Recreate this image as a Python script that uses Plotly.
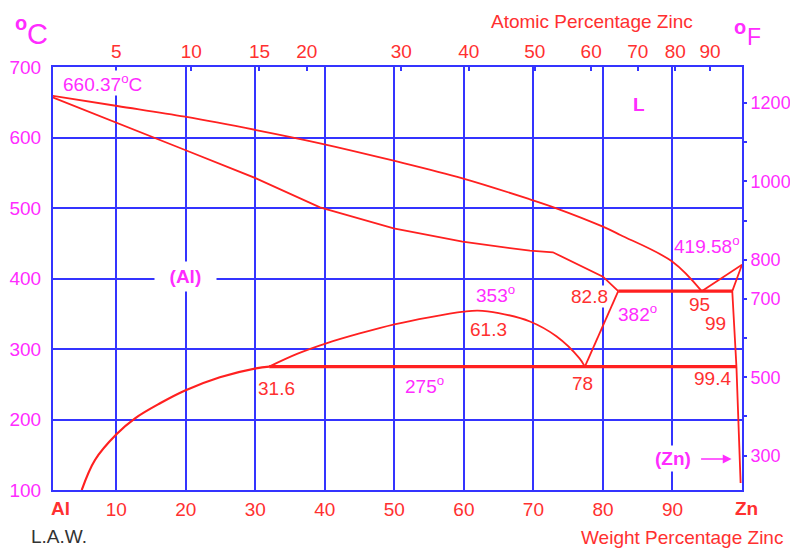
import plotly.graph_objects as go

RED = "#ff2020"
TXT_RED = "#ff3030"
MAG = "#ff2cff"
BLUE = "#3434ff"
FONT = "Liberation Sans, Arial, sans-serif"

# ---------------- data (weight % Zn, temperature in deg C) ----------------
liq_al_wt = [0, 10.15, 19.9, 30.1, 39.3, 49.9, 59.8, 69.5, 73.3, 80.0, 82.5, 90.0, 94.2]
liq_al_T = [660.37, 644.7, 629.5, 610.6, 591.8, 567.1, 542.1, 512.3, 499.6, 473.5, 461.7, 423.8, 382]

sol_al_wt = [0, 10.15, 19.9, 30.1, 39.3, 49.9, 59.8, 69.5, 72.8, 80.0, 82.2]
sol_al_T = [660.37, 620.1, 582.3, 542.1, 501.0, 471.2, 452.2, 439.4, 437.2, 402.6, 382]

gap_wt = [32.0, 36.0, 40.2, 45.0, 50.0, 55.0, 60.0, 62.0, 65.0, 69.5, 73.3, 76.6, 77.4]
gap_T = [275, 293, 308, 322, 335, 345, 353, 354.5, 351, 339, 318, 287, 275]

alpha_wt = [77.4, 82.2]
alpha_T = [275, 382]

solv_al_wt = [5.03, 6.94, 10.06, 12.7, 16.3, 19.9, 24.9, 30.1, 32.0]
solv_al_T = [100, 142.6, 179.4, 201.7, 223.0, 241.1, 259.9, 272.6, 275]

liq_zn_wt = [100, 94.2]
liq_zn_T = [419.58, 382]

zn_wt = [100, 98.6, 99.2, 99.8]
zn_T = [419.58, 382, 275, 110]

eutectic_wt = [82.2, 98.6]
eutectic_T = [382, 382]

eutectoid_wt = [32.0, 99.2]
eutectoid_T = [275, 275]

# axis ticks
wt_ticks = [10, 20, 30, 40, 50, 60, 70, 80, 90]
at_labels = ["5", "10", "15", "20", "30", "40", "50", "60", "70", "80", "90"]
at_pos_wt = [10.0, 20.8, 30.6, 37.4, 51.0, 60.7, 70.2, 78.3, 85.0, 90.4, 95.4]
c_ticks = [100, 200, 300, 400, 500, 600, 700]
f_labeled = [300, 500, 700, 800, 1000, 1200]
f_minor = [400, 600, 900, 1100]
f_pos_c = [(f - 32) * 5 / 9 for f in f_labeled]
f_minor_c = [(f - 32) * 5 / 9 for f in f_minor]

fig = go.Figure()


def add_line(x, y, w=1.8, smooth=False):
    fig.add_trace(go.Scatter(
        x=x, y=y, mode="lines",
        line=dict(color=RED, width=w, shape="spline" if smooth else "linear",
                  smoothing=1.0),
        hoverinfo="skip", showlegend=False))


add_line(liq_al_wt, liq_al_T, smooth=True)
add_line(sol_al_wt, sol_al_T)
add_line(gap_wt, gap_T, smooth=True)
add_line(alpha_wt, alpha_T)
add_line(solv_al_wt, solv_al_T, w=2.2, smooth=True)
add_line(liq_zn_wt, liq_zn_T)
add_line(zn_wt, zn_T)
add_line(eutectic_wt, eutectic_T, w=3.2)
add_line(eutectoid_wt, eutectoid_T, w=3.2)

# invisible trace to activate secondary axes
fig.add_trace(go.Scatter(x=[50], y=[400], xaxis="x2", yaxis="y2", mode="markers",
                         marker=dict(size=1, opacity=0), hoverinfo="skip",
                         showlegend=False))

axis_common = dict(showline=True, linecolor=BLUE, linewidth=2, mirror=True,
                   showgrid=True, gridcolor=BLUE, gridwidth=2, zeroline=False,
                   ticks="", automargin=False)

fig.update_layout(
    width=790, height=551, autosize=False,
    margin=dict(l=53, r=48, t=67, b=61, autoexpand=False),
    paper_bgcolor="white", plot_bgcolor="white",
    font=dict(family=FONT, size=19),
    xaxis=dict(range=[0.9, 100], tickvals=wt_ticks,
               ticktext=[str(v) for v in wt_ticks],
               tickfont=dict(color=TXT_RED, size=19), ticklabelstandoff=1,
               **axis_common),
    yaxis=dict(range=[100, 700], tickvals=c_ticks,
               ticktext=[str(v) for v in c_ticks],
               tickfont=dict(color=MAG, size=19), ticklabelstandoff=6,
               **axis_common),
    xaxis2=dict(overlaying="x", side="top", anchor="y2", range=[0.9, 100],
                tickvals=at_pos_wt, ticktext=at_labels, ticks="inside",
                ticklen=4, tickwidth=2, tickcolor=BLUE, showgrid=False,
                showline=False, zeroline=False, automargin=False,
                tickfont=dict(color=TXT_RED, size=19), ticklabelstandoff=4),
    yaxis2=dict(overlaying="y", side="right", anchor="x2", range=[100, 700],
                tickvals=f_pos_c, ticktext=[str(f) for f in f_labeled],
                ticks="outside", ticklen=4, tickwidth=2, tickcolor=BLUE,
                minor=dict(tickvals=f_minor_c, ticks="outside", ticklen=4,
                           tickwidth=2, tickcolor=BLUE, showgrid=False),
                showgrid=False, showline=False, zeroline=False, automargin=False,
                tickfont=dict(color=MAG, size=18), ticklabelstandoff=0),
)

ann = []


def note(text, x, y, color=TXT_RED, size=19, bg=None, ref="data", pad=0, **kw):
    d = dict(text=text, x=x, y=y, showarrow=False, font=dict(color=color, size=size,
             family=FONT), xanchor="center", yanchor="middle", borderpad=pad)
    if ref == "paper":
        d.update(xref="paper", yref="paper")
    if bg:
        d["bgcolor"] = bg
    d.update(kw)
    ann.append(d)


# labels inside the plot
note("660.37<sup>o</sup>C", 7.95, 677.3, color=MAG, bg="white")
note("<b>L</b>", 85.2, 646.8, color=MAG)
note("&nbsp;&nbsp;<b>(Al)</b>&nbsp;&nbsp;", 19.96, 403.5, color=MAG, bg="white", pad=4)
note("353<sup>o</sup>", 64.6, 378.5, color=MAG)
note("61.3", 63.6, 327)
note("78", 77.1, 250.4)
note("275<sup>o</sup>", 54.4, 248.5, color=MAG)
note("31.6", 33.1, 244.3)
note("82.8", 78.0, 374.2, bg="white")
note("382<sup>o</sup>", 85.0, 351.5, color=MAG)
note("95", 93.95, 363.8)
note("99", 96.2, 335.5)
note("99.4", 95.8, 258.4)
note("419.58<sup>o</sup>", 94.9, 447.0, color=MAG, bg="white")
note("<b>(Zn)</b>", 90.1, 145, color=MAG, bg="white", pad=2)
ann.append(dict(x=98.5, y=144, ax=-32, ay=0, text="", showarrow=True,
                arrowhead=2, arrowsize=1.1, arrowwidth=1.6, arrowcolor=MAG))

# labels outside the plot
note("<b>Al</b>", 0.0109, -0.0437, ref="paper")
note("<b>Zn</b>", 1.0068, -0.0437, ref="paper")
note("Weight Percentage Zinc", 0.9136, -0.1123, ref="paper")
note("L.A.W.", 0.0087, -0.1111, color="#333333", ref="paper")
note("Atomic Percentage Zinc", 0.783, 1.1064, ref="paper")
note("<b>o</b>", -0.0464, 1.1052, color=MAG, size=20, ref="paper")
note("C", -0.0225, 1.078, color=MAG, size=29, ref="paper")
note("<b>o</b>", 0.9971, 1.0934, color=MAG, size=20, ref="paper")
note("F", 1.0174, 1.0721, color=MAG, size=23, ref="paper")

fig.update_layout(annotations=ann)
fig.write_html(
    "out.html",
    config={"displayModeBar": False},
    post_script="document.body.style.margin='0';"
                "document.documentElement.style.overflow='hidden';",
)
